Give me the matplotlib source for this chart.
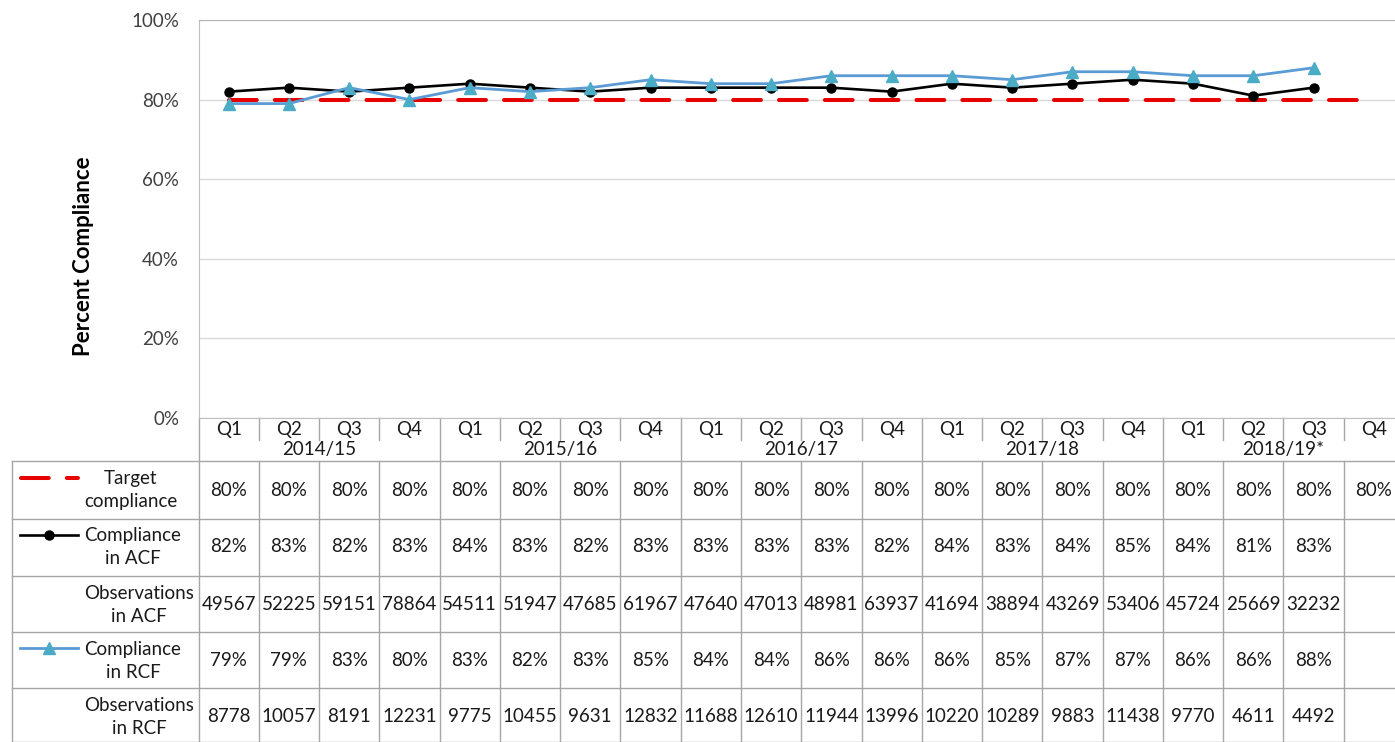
import matplotlib
matplotlib.use('Agg')
import matplotlib.pyplot as plt
import matplotlib.transforms as mtransforms
from matplotlib.lines import Line2D

plt.rcParams['font.family'] = ['Lato', 'DejaVu Sans']
plt.rcParams['lines.scale_dashes'] = False

######## data
years = ['2014/15', '2015/16', '2016/17', '2017/18', '2018/19*']
quarters = ['Q1', 'Q2', 'Q3', 'Q4'] * 5
target = [80] * 20
acf = [82, 83, 82, 83, 84, 83, 82, 83, 83, 83, 83, 82, 84, 83, 84, 85, 84, 81, 83]
obs_acf = [49567, 52225, 59151, 78864, 54511, 51947, 47685, 61967, 47640, 47013,
           48981, 63937, 41694, 38894, 43269, 53406, 45724, 25669, 32232]
rcf = [79, 79, 83, 80, 83, 82, 83, 85, 84, 84, 86, 86, 86, 85, 87, 87, 86, 86, 88]
obs_rcf = [8778, 10057, 8191, 12231, 9775, 10455, 9631, 12832, 11688, 12610,
           11944, 13996, 10220, 10289, 9883, 11438, 9770, 4611, 4492]

W, H = 1395, 742
fig = plt.figure(figsize=(W / 100, H / 100), dpi=100)

####### overlay axes in pixel coords (for the table)
ax2 = fig.add_axes([0, 0, 1, 1])
ax2.set_xlim(0, W)
ax2.set_ylim(H, 0)
ax2.axis('off')

####### main plot
x0, x1, ytop, ybot = 198.5, 1404, 20, 418
ax = fig.add_axes([x0 / W, (H - ybot) / H, (x1 - x0) / W, (ybot - ytop) / H])
n = len(quarters)
xs = list(range(n))
ax.set_xlim(-0.5, n - 0.5)
ax.set_ylim(0, 100)
ax.plot(xs, target, color='#E60000', lw=2.9, dashes=(20, 13),
        dash_capstyle='round', zorder=3)
ax.plot(xs[:len(acf)], acf, color='black', lw=1.9, marker='o', ms=6.5, zorder=4)
ax.plot(xs[:len(rcf)], rcf, color='#5B9BD5', lw=2.0, marker='^', ms=8.5,
        mfc='#4BACC6', mec='#4BACC6', zorder=5)

ax.set_yticks([0, 20, 40, 60, 80, 100])
ax.set_yticklabels(['0%', '20%', '40%', '60%', '80%', '100%'])
ax.tick_params(axis='y', length=0, pad=14, labelsize=13.5, labelcolor='#404040')
ax.set_xticks([])
ax.grid(axis='y', color='#D9D9D9', lw=1)
ax.set_axisbelow(True)
ax.spines['right'].set_visible(False)
ax.spines['top'].set_color('#B3B3B3')
ax.spines['left'].set_color('#BFBFBF')
ax.spines['bottom'].set_color('#BFBFBF')
ax.patch.set_alpha(0)

fig.text(84 / W, 1 - 256 / H, 'Percent Compliance', rotation=90, fontsize=16,
         fontweight='bold', ha='center', va='center', color='black')

####### table
tr = mtransforms.blended_transform_factory(ax.transData, ax2.transData)
gc = '#A6A6A6'
row_lines = [461, 519, 576, 632, 688, 742]
for y in row_lines:
    ax2.plot([12, W], [y, y], color=gc, lw=1, clip_on=False)
ax2.plot([12, 12], [461, 742], color=gc, lw=1)
for k in range(n + 1):
    xb = k - 0.5
    if k % 4 == 0:
        ax2.plot([xb, xb], [418, 742], color=gc, lw=1, transform=tr)
    else:
        ax2.plot([xb, xb], [418, 440], color=gc, lw=1, transform=tr)
        ax2.plot([xb, xb], [461, 742], color=gc, lw=1, transform=tr)

tc = '#1A1A1A'
fs = 13.5
for i, q in enumerate(quarters):
    ax2.text(i, 429, q, transform=tr, ha='center', va='center', fontsize=fs, color=tc)
for j, yr in enumerate(years):
    ax2.text(4 * j + 1.5, 450, yr, transform=tr, ha='center', va='center',
             fontsize=fs, color=tc)

rows = [
    (490, ['%d%%' % v for v in target]),
    (547, ['%d%%' % v for v in acf]),
    (605, [str(v) for v in obs_acf]),
    (661, ['%d%%' % v for v in rcf]),
    (717, [str(v) for v in obs_rcf]),
]
for y, vals in rows:
    for i, v in enumerate(vals):
        ax2.text(i, y, v, transform=tr, ha='center', va='center', fontsize=fs, color=tc)

labels = [(131, 490, 'Target\ncompliance'), (133, 547, 'Compliance\nin ACF'),
          (139, 605, 'Observations\nin ACF'), (133, 661, 'Compliance\nin RCF'),
          (139, 717, 'Observations\nin RCF')]
for lx, ly, t in labels:
    ax2.text(lx, ly, t, ha='center', va='center', fontsize=fs, color=tc,
             linespacing=1.4)

# legend keys
ax2.add_line(Line2D([21, 78], [478, 478], color='#E60000', lw=2.9, dashes=(20, 13),
                    dash_capstyle='round'))
ax2.add_line(Line2D([20, 49, 78], [535, 535, 535], color='black', lw=1.9,
                    marker='o', ms=6.5, markevery=[1]))
ax2.add_line(Line2D([20, 49, 78], [648, 648, 648], color='#5B9BD5', lw=2.0,
                    marker='^', ms=8.5, mfc='#4BACC6', mec='#4BACC6', markevery=[1]))

fig.savefig('out.png', dpi=100)
